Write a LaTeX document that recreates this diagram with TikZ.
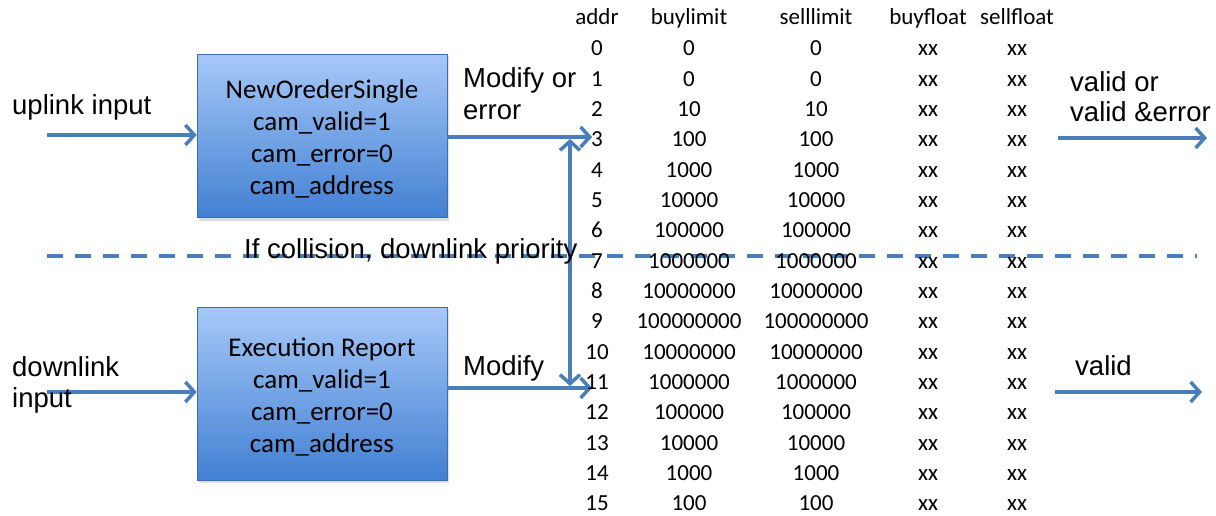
\documentclass[tikz,border=0pt]{standalone}
\usepackage{fontspec}
\setmainfont{Carlito}
\newfontfamily\arialfont{Liberation Sans}
\usetikzlibrary{arrows.meta,shadows}
\definecolor{flowblue}{HTML}{4A7EBB}
\definecolor{boxtop}{HTML}{A6C8F8}
\definecolor{boxbottom}{HTML}{4280D2}
\definecolor{boxedge}{HTML}{3C6CB0}
\begin{document}
\begin{tikzpicture}[x=1pt,y=-1pt,
  barb/.tip={Straight Barb[length=9pt,width=20pt]},
  flow/.style={draw=flowblue,line width=3.5pt,-barb},
  bothflow/.style={draw=flowblue,line width=3.5pt,barb-barb},
  divider/.style={draw=flowblue,line width=3.5pt,dash pattern=on 16pt off 12pt},
  camblock/.style={draw=boxedge,line width=0.6pt,top color=boxtop,bottom color=boxbottom,
    minimum width=250pt,inner sep=0pt},
  camtext/.style={align=center,inner sep=0pt,font=\fontsize{27}{32}\selectfont},
  lbl/.style={anchor=base west,inner sep=0pt,font=\arialfont\fontsize{27.5}{31}\selectfont},
  cell/.style={anchor=base,inner sep=0pt,font=\fontsize{23}{26}\selectfont}]
\useasboundingbox (0,0) rectangle (1216,516);

% separator between uplink and downlink halves
\coordinate (divL) at (47,256);
\coordinate (divR) at (1197,256);
\draw[divider] (divL) -- (divR);

% processing blocks
\node[camblock,minimum height=163pt,
  drop shadow={shadow xshift=2pt,shadow yshift=-3pt,opacity=0.25}] (nos) at (322,136) {};
\node[camtext] (nosText) at (322,139)
  {NewOrederSingle\\cam\_valid=1\\cam\_error=0\\cam\_address};
\node[camblock,minimum height=173pt,
  drop shadow={shadow xshift=2pt,shadow yshift=-3pt,opacity=0.25}] (er) at (322,393.5) {};
\node[camtext] (erText) at (322,397)
  {Execution Report\\cam\_valid=1\\cam\_error=0\\cam\_address};

% inputs
\coordinate (upin) at (47,135);
\coordinate (dnin) at (47,392);
\draw[flow] (upin) -- (upin -| nos.west);
\draw[flow] (dnin) -- (dnin -| er.west);
\node[lbl] (uplbl) at (12,115) {uplink input};
\node[lbl] (dnlbl1) at (12,376) {downlink};
\node[lbl] (dnlbl2) at (12,407) {input};

% writes into the table
\coordinate (topin) at (592,137);
\coordinate (botin) at (592,388);
\draw[flow] (topin -| nos.east) -- (topin);
\draw[flow] (botin -| er.east) -- (botin);
\node[lbl] (modA1) at (463,88) {Modify or};
\node[lbl] (modA2) at (463,120) {error};
\node[lbl] (modB) at (463,375) {Modify};

% arbitration between the two ports
\coordinate (vtop) at (570,139);
\coordinate (vbot) at (570,386);
\draw[bothflow] (vtop) -- (vbot);
\node[lbl] (prio) at (244,258) {If collision, downlink priority};

% outputs
\coordinate (outA) at (1058,138);
\coordinate (outAend) at (1207,138);
\coordinate (outB) at (1055,392);
\coordinate (outBend) at (1202,392);
\draw[flow] (outA) -- (outAend);
\draw[flow] (outB) -- (outBend);
\node[lbl] (validA1) at (1070,92) {valid or};
\node[lbl] (validA2) at (1070,122) {valid \&error};
\node[lbl] (validB) at (1075,375) {valid};

% CAM table
\node[cell] (hAddr) at (597,25) {addr};
\node[cell] (hBuy) at (689,25) {buylimit};
\node[cell] (hSell) at (816,25) {selllimit};
\node[cell] (hBf) at (928,25) {buyfloat};
\node[cell] (hSf) at (1017,25) {sellfloat};
\foreach \v [count=\i from 0] in {0,0,10,100,1000,10000,100000,1000000,10000000,
    100000000,10000000,1000000,100000,10000,1000,100} {
  \node[cell] (addr\i) at (597,{56+30.33*\i}) {\i};
  \node[cell] (buy\i) at (689,{56+30.33*\i}) {\v};
  \node[cell] (sell\i) at (816,{56+30.33*\i}) {\v};
  \node[cell] (bf\i) at (928,{56+30.33*\i}) {xx};
  \node[cell] (sf\i) at (1017,{56+30.33*\i}) {xx};
}
\end{tikzpicture}
\end{document}
